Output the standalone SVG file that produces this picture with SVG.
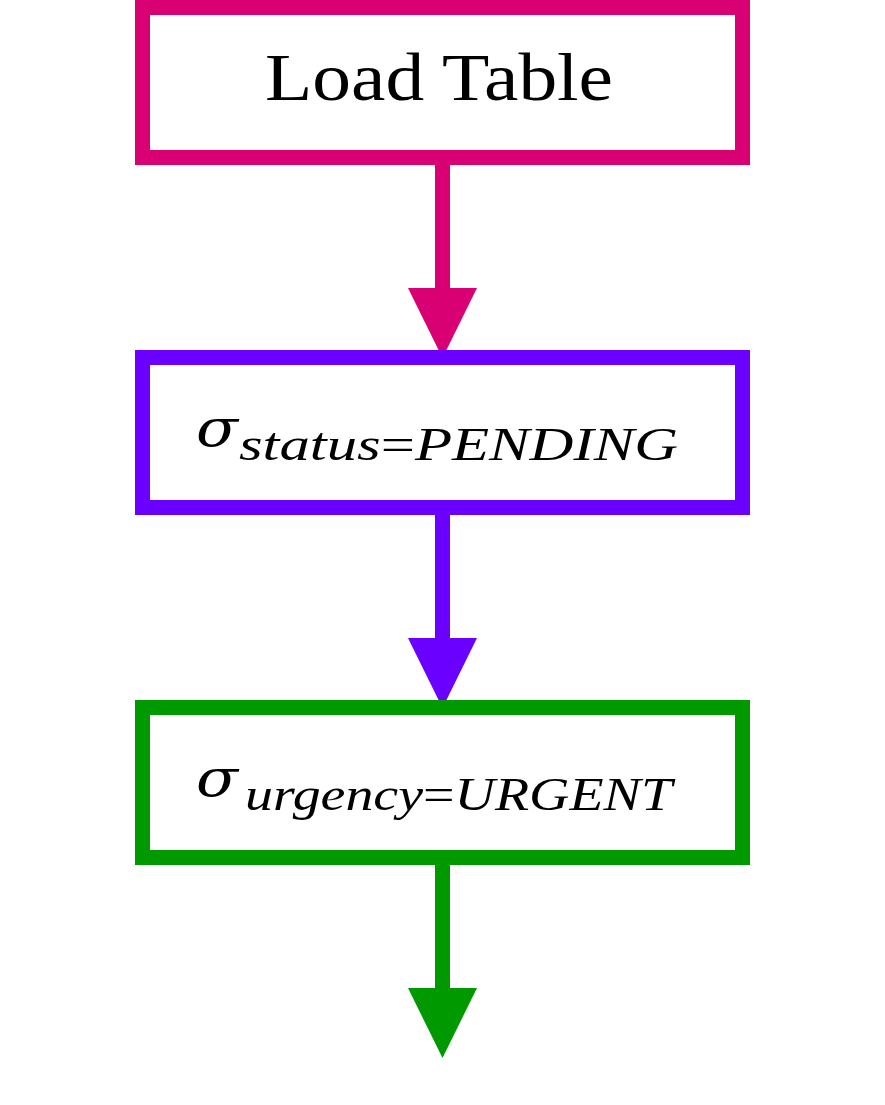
<svg xmlns="http://www.w3.org/2000/svg" width="885" height="1105" viewBox="0 0 885 1105">
  <style>
    .box { fill: #ffffff; stroke-width: 15; }
    .line { stroke-width: 15; fill: none; }
    .lbl { font-family: "Liberation Serif", "DejaVu Serif", serif; fill: #000000; }
    .it { font-style: italic; }
    .sig { font-family: "DejaVu Serif", "Liberation Serif", serif; font-style: italic; fill: #000000; }
  </style>
  <rect x="0" y="0" width="885" height="1105" fill="#ffffff"/>
  <g id="connectors">
    <line class="line" x1="442.5" y1="165" x2="442.5" y2="290" stroke="#d80073"/>
    <polygon points="408,288 477,288 442.5,358" fill="#d80073"/>
    <line class="line" x1="442.5" y1="515" x2="442.5" y2="640" stroke="#6a00ff"/>
    <polygon points="408,638 477,638 442.5,708" fill="#6a00ff"/>
    <line class="line" x1="442.5" y1="865" x2="442.5" y2="990" stroke="#009900"/>
    <polygon points="408,988 477,988 442.5,1058" fill="#009900"/>
  </g>
  <g id="load-table">
    <rect class="box" x="142.5" y="7.5" width="600" height="150" stroke="#d80073"/>
    <text class="lbl" x="265" y="100" font-size="67" textLength="348" lengthAdjust="spacingAndGlyphs">Load Table</text>
  </g>
  <g id="select-status">
    <rect class="box" x="142.5" y="357.5" width="600" height="150" stroke="#6a00ff"/>
    <text class="sig" x="196" y="446" font-size="52" textLength="42" lengthAdjust="spacingAndGlyphs">σ</text>
    <text class="lbl" x="239" y="460" font-size="47" textLength="439" lengthAdjust="spacingAndGlyphs"><tspan class="it">status</tspan>=<tspan class="it">PENDING</tspan></text>
  </g>
  <g id="select-urgency">
    <rect class="box" x="142.5" y="707.5" width="600" height="150" stroke="#009900"/>
    <text class="sig" x="196" y="796" font-size="52" textLength="42" lengthAdjust="spacingAndGlyphs">σ</text>
    <text class="lbl" x="245" y="810" font-size="47" textLength="427" lengthAdjust="spacingAndGlyphs"><tspan class="it">urgency</tspan>=<tspan class="it">URGENT</tspan></text>
  </g>
</svg>
